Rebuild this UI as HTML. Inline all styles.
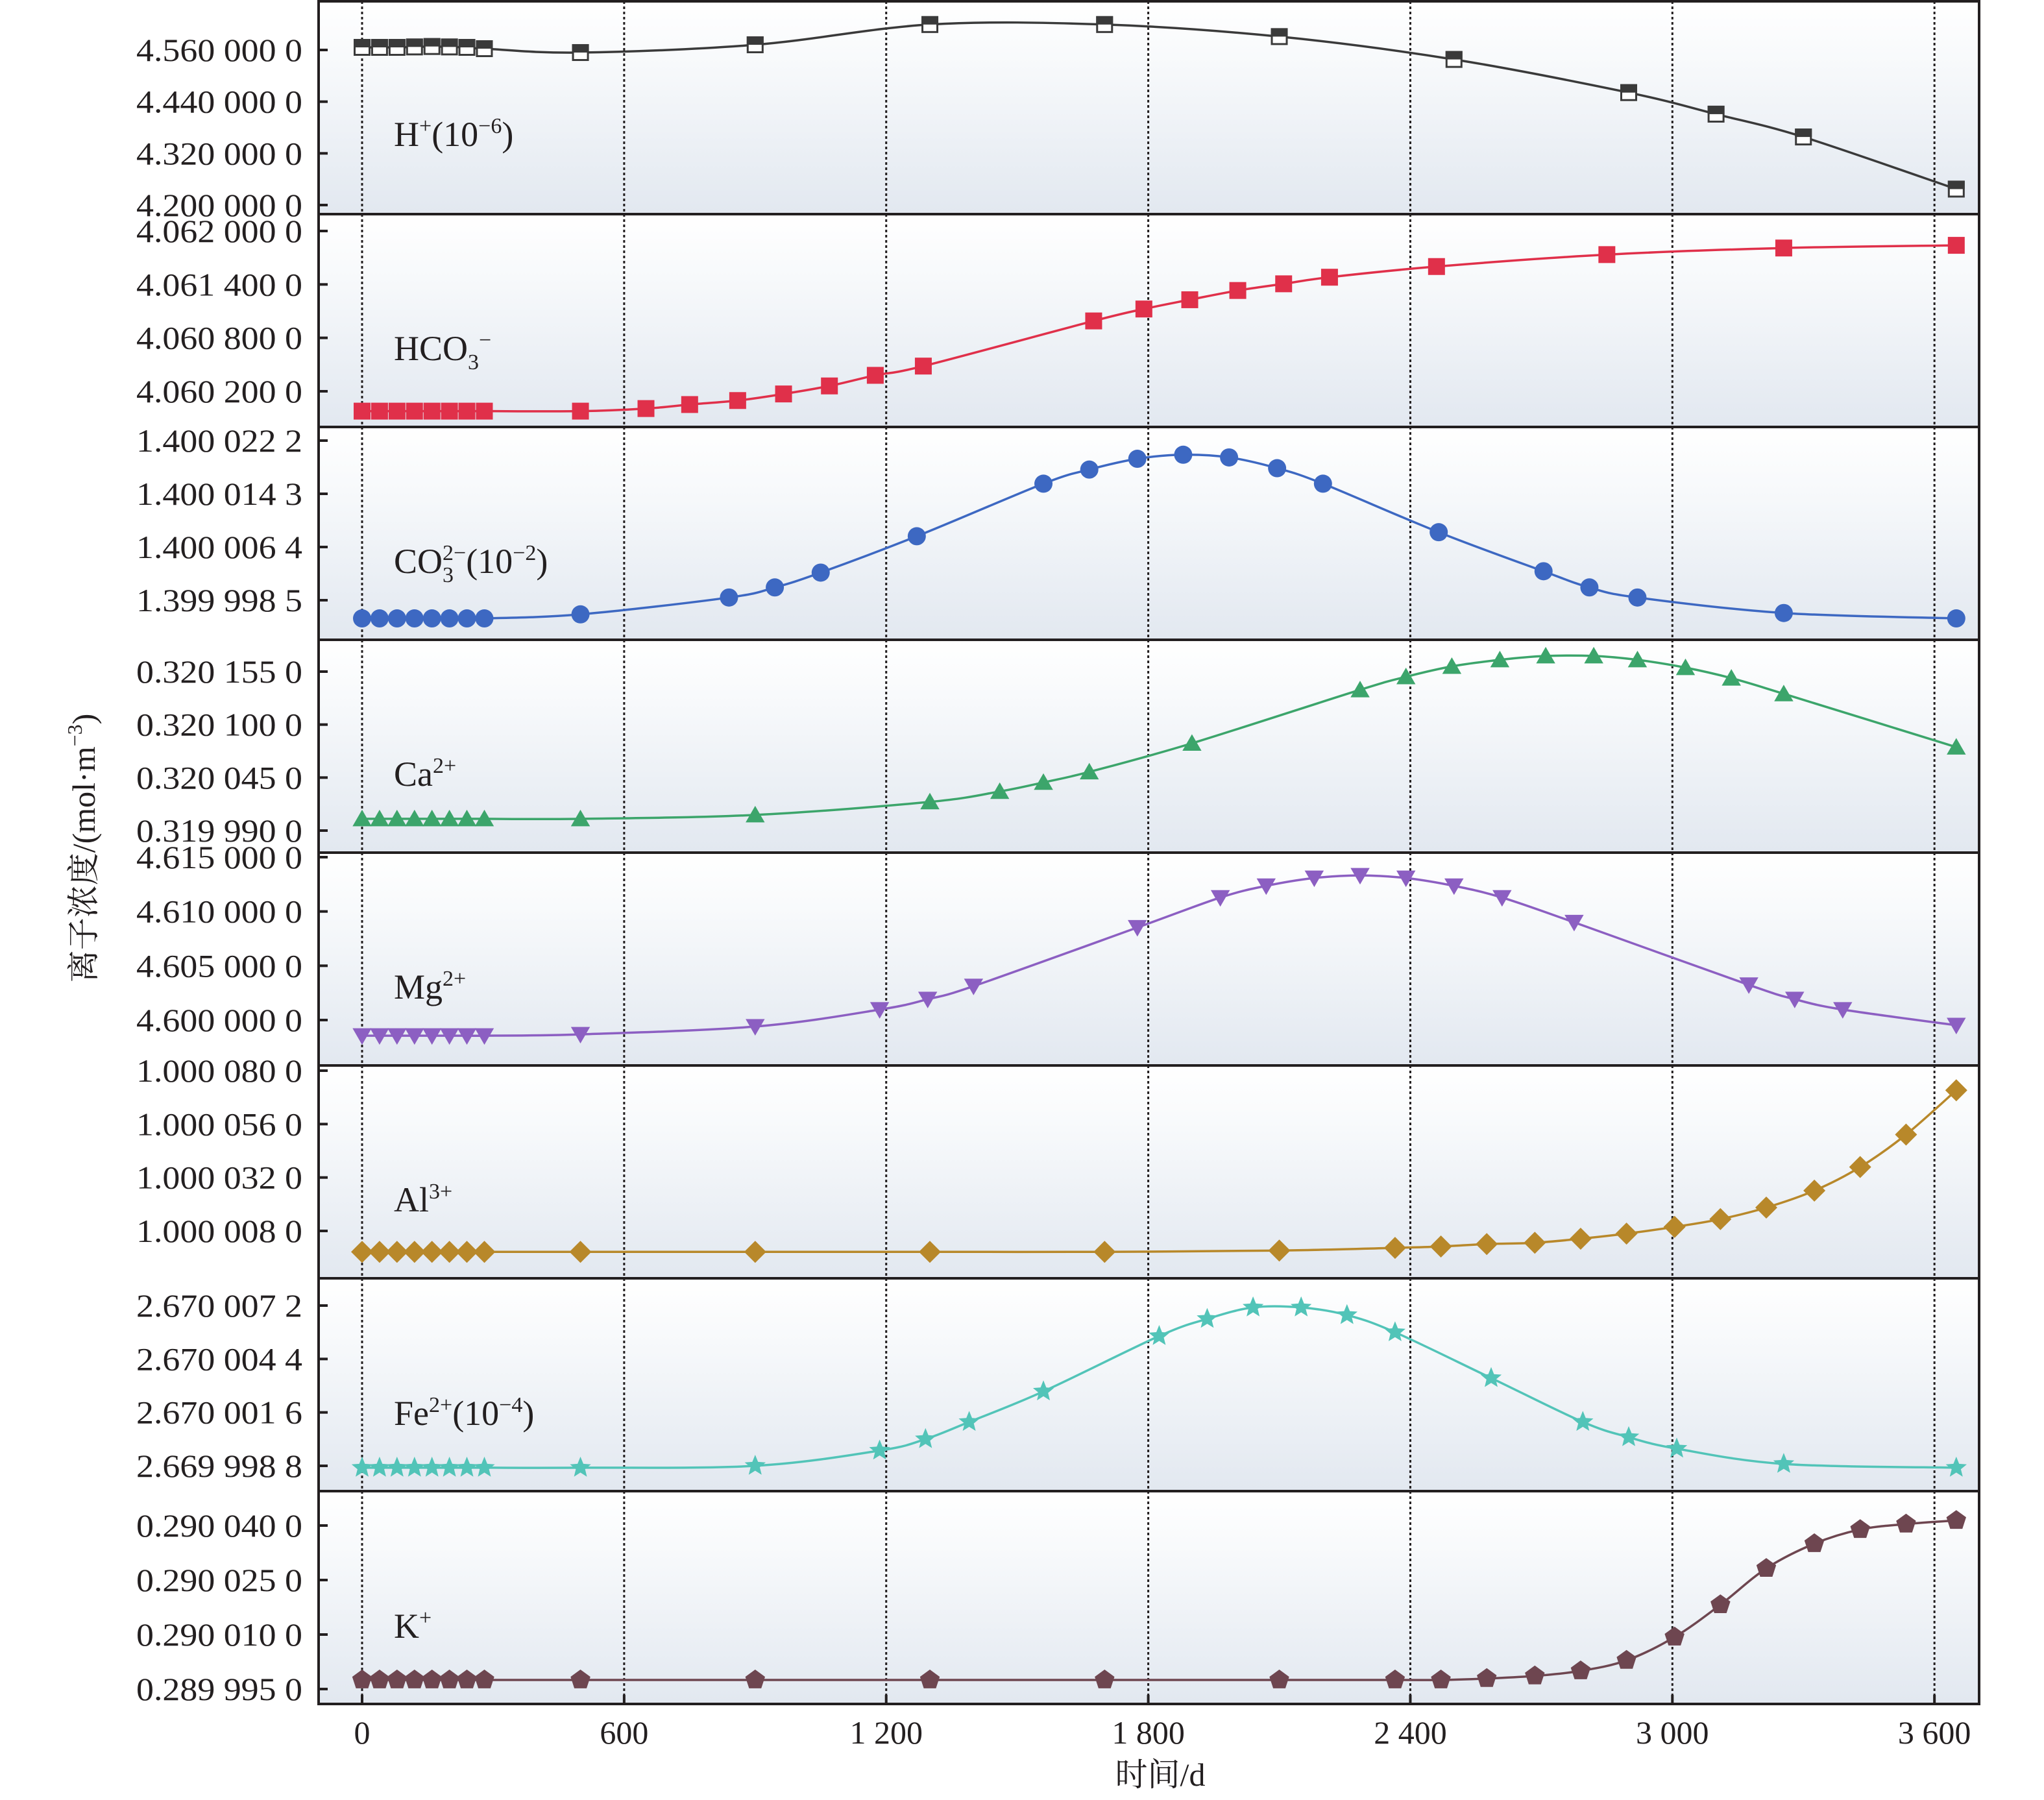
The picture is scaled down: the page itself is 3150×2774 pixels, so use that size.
<!DOCTYPE html>
<html><head><meta charset="utf-8"><style>
html,body{margin:0;padding:0;background:#fff;}
svg{display:block;}
text{font-family:"Liberation Serif","Noto Serif CJK SC",serif;fill:#231f20;}
</style></head><body>
<svg id="chart" width="3150" height="2774" viewBox="0 0 3150 2774" xmlns="http://www.w3.org/2000/svg">
<defs>
<linearGradient id="bg" x1="0" y1="0" x2="0" y2="1">
<stop offset="0" stop-color="#ffffff"/><stop offset="0.3" stop-color="#f7f9fb"/><stop offset="1" stop-color="#e2e8f0"/>
</linearGradient>
</defs>
<g id="layer-bg"></g><g id="layer-grid"></g><g id="layer-data"></g><g id="layer-axes"></g><g id="layer-text"></g>
<text x="146" y="1307" font-size="50" text-anchor="middle" transform="rotate(-90 146 1307)" style="font-family:'Liberation Serif','Noto Serif CJK SC',serif">离子浓度/(mol·m<tspan font-size="32" dy="-20">−3</tspan><tspan dy="20">)</tspan></text>
<text x="1788" y="2752" font-size="50" text-anchor="middle">时间/d</text>
</svg>
<script>
// ---- data ----
const xTickValues=[0,600,1200,1800,2400,3000,3600];
const xTickLabels=["0","600","1 200","1 800","2 400","3 000","3 600"];
const early=[0,40,80,120,160,200,240,280];

const hDays=early.concat([500,900,1300,1700,2100,2500,2900,3100,3300,3650]);
const hVals=[4.566,4.566,4.566,4.567,4.568,4.567,4.566,4.563,4.554,4.572,4.619,4.619,4.591,4.538,4.461,4.411,4.358,4.237];
const hTicks=[4.20,4.32,4.44,4.56];
const hTickLabels=["4.200 000 0","4.320 000 0","4.440 000 0","4.560 000 0"];

const hcoDays=early.concat([500,650,750,860,965,1070,1175,1285,1675,1790,1895,2005,2110,2215,2460,2850,3255,3650]);
const hcoVals=[4.059977,4.059977,4.059977,4.059977,4.059977,4.059977,4.059977,4.059977,4.059977,4.060006,4.060051,4.060096,4.060170,4.060260,4.060379,4.060483,4.060990,4.061124,4.061228,4.061332,4.061407,4.061481,4.061601,4.061735,4.061809,4.061839];
const hcoTicks=[4.0602,4.0608,4.0614,4.0620];
const hcoTickLabels=["4.060 200 0","4.060 800 0","4.061 400 0","4.062 000 0"];

const co3Days=early.concat([500,840,945,1050,1270,1560,1665,1775,1880,1985,2095,2200,2465,2705,2810,2920,3255,3650]);
const co3Vals=[1.3999958,1.3999958,1.3999958,1.3999958,1.3999958,1.3999958,1.3999958,1.3999958,1.3999964,1.3999989,1.4000004,1.4000026,1.4000080,1.4000158,1.4000179,1.4000195,1.4000201,1.4000197,1.4000181,1.4000158,1.4000086,1.4000028,1.4000004,1.3999989,1.3999966,1.3999958];
const co3Ticks=[1.3999985,1.4000064,1.4000143,1.4000222];
const co3TickLabels=["1.399 998 5","1.400 006 4","1.400 014 3","1.400 022 2"];

const caDays=early.concat([500,900,1300,1460,1560,1665,1900,2285,2390,2495,2605,2710,2820,2920,3030,3135,3255,3650]);
const caVals=[0.3200022,0.3200022,0.3200022,0.3200022,0.3200022,0.3200022,0.3200022,0.3200022,0.3200022,0.3200062,0.3200198,0.3200306,0.3200400,0.3200509,0.3200806,0.3201361,0.3201496,0.3201604,0.3201672,0.3201712,0.3201712,0.3201672,0.3201591,0.3201482,0.3201320,0.3200766];
const caTicks=[0.31999,0.320045,0.3201,0.320155];
const caTickLabels=["0.319 990 0","0.320 045 0","0.320 100 0","0.320 155 0"];

const mgDays=early.concat([500,900,1185,1295,1400,1775,1965,2070,2180,2285,2390,2500,2610,2775,3175,3280,3390,3650]);
const mgVals=[4.59856,4.59856,4.59856,4.59856,4.59856,4.59856,4.59856,4.59856,4.59868,4.5994,4.60096,4.60192,4.60312,4.60852,4.61128,4.61236,4.61308,4.61332,4.61308,4.61236,4.61128,4.609,4.60324,4.60192,4.60096,4.59952];
const mgTicks=[4.600,4.605,4.610,4.615];
const mgTickLabels=["4.600 000 0","4.605 000 0","4.610 000 0","4.615 000 0"];

const alDays=early.concat([500,900,1300,1700,2100,2365,2470,2575,2685,2790,2895,3005,3110,3215,3325,3430,3535,3650]);
const alVals=[0.9999986,0.9999986,0.9999986,0.9999986,0.9999986,0.9999986,0.9999986,0.9999986,0.9999986,0.9999986,0.9999986,0.9999986,0.9999992,1.0000004,1.0000010,1.0000021,1.0000027,1.0000045,1.0000068,1.0000098,1.0000133,1.0000185,1.0000261,1.0000367,1.0000513,1.0000712];
const alTicks=[1.000008,1.000032,1.000056,1.000080];
const alTickLabels=["1.000 008 0","1.000 032 0","1.000 056 0","1.000 080 0"];

const feDays=early.concat([500,900,1185,1290,1390,1560,1825,1935,2040,2150,2255,2365,2585,2795,2900,3010,3255,3650]);
const feVals=[2.6699987,2.6699987,2.6699987,2.6699987,2.6699987,2.6699987,2.6699987,2.6699987,2.6699987,2.6699988,2.6699996,2.6700002,2.6700011,2.6700027,2.6700056,2.6700065,2.6700071,2.6700071,2.6700067,2.6700058,2.6700034,2.6700011,2.6700003,2.6699997,2.6699989,2.6699987];
const feTicks=[2.6699988,2.6700016,2.6700044,2.6700072];
const feTickLabels=["2.669 998 8","2.670 001 6","2.670 004 4","2.670 007 2"];

const kDays=early.concat([500,900,1300,1700,2100,2365,2470,2575,2685,2790,2895,3005,3110,3215,3325,3430,3535,3650]);
const kVals=[0.2899975,0.2899975,0.2899975,0.2899975,0.2899975,0.2899975,0.2899975,0.2899975,0.2899975,0.2899975,0.2899975,0.2899975,0.2899975,0.2899975,0.2899975,0.2899979,0.2899986,0.2900000,0.2900029,0.2900093,0.2900182,0.2900282,0.2900350,0.2900389,0.2900404,0.2900414];
const kTicks=[0.289995,0.290010,0.290025,0.290040];
const kTickLabels=["0.289 995 0","0.290 010 0","0.290 025 0","0.290 040 0"];

// ---- layout ----
const NS="http://www.w3.org/2000/svg";
const L=491,R=3050,T=2,B=2626,PH=328,X0=558,XS=0.6731;
const xAt=d=>X0+d*XS;
const panels=[
 {key:"h",days:hDays,vals:hVals,ticks:hTicks,labels:hTickLabels,pLo:316,pHi:77,color:"#3a3a3a",marker:"halfsquare"},
 {key:"hco3",days:hcoDays,vals:hcoVals,ticks:hcoTicks,labels:hcoTickLabels,pLo:603,pHi:356,color:"#e0304a",marker:"square"},
 {key:"co3",days:co3Days,vals:co3Vals,ticks:co3Ticks,labels:co3TickLabels,pLo:925,pHi:679,color:"#3d68c2",marker:"circle"},
 {key:"ca",days:caDays,vals:caVals,ticks:caTicks,labels:caTickLabels,pLo:1280,pHi:1035,color:"#3ca56b",marker:"triangle"},
 {key:"mg",days:mgDays,vals:mgVals,ticks:mgTicks,labels:mgTickLabels,pLo:1572,pHi:1321,color:"#8c5fc2",marker:"downtriangle"},
 {key:"al",days:alDays,vals:alVals,ticks:alTicks,labels:alTickLabels,pLo:1897,pHi:1650,color:"#b8882a",marker:"diamond"},
 {key:"fe",days:feDays,vals:feVals,ticks:feTicks,labels:feTickLabels,pLo:2259,pHi:2012,color:"#52c4b8",marker:"star"},
 {key:"k",days:kDays,vals:kVals,ticks:kTicks,labels:kTickLabels,pLo:2603,pHi:2351,color:"#6e4650",marker:"pentagon"}
];
function el(tag,attrs,parent){const e=document.createElementNS(NS,tag);for(const k in attrs)e.setAttribute(k,attrs[k]);parent.appendChild(e);return e;}
const gBg=document.getElementById("layer-bg"),gGrid=document.getElementById("layer-grid"),gData=document.getElementById("layer-data"),gAxes=document.getElementById("layer-axes"),gText=document.getElementById("layer-text");

function spline(pts){
 let d="M"+pts[0][0].toFixed(1)+","+pts[0][1].toFixed(1);
 for(let i=0;i<pts.length-1;i++){
  const p0=pts[Math.max(i-1,0)],p1=pts[i],p2=pts[i+1],p3=pts[Math.min(i+2,pts.length-1)];
  const c1=[p1[0]+(p2[0]-p0[0])/6,p1[1]+(p2[1]-p0[1])/6],c2=[p2[0]-(p3[0]-p1[0])/6,p2[1]-(p3[1]-p1[1])/6];
  d+=" C"+c1[0].toFixed(1)+","+c1[1].toFixed(1)+" "+c2[0].toFixed(1)+","+c2[1].toFixed(1)+" "+p2[0].toFixed(1)+","+p2[1].toFixed(1);
 }
 return d;
}
function poly(cx,cy,n,r,rot,inner){
 const pts=[];const m=inner?n*2:n;
 for(let i=0;i<m;i++){const rr=inner&&(i%2)?inner:r;const a=rot+i*2*Math.PI/m;pts.push((cx+rr*Math.sin(a)).toFixed(1)+","+(cy-rr*Math.cos(a)).toFixed(1));}
 return pts.join(" ");
}
function drawMarker(g,type,x,y,c){
 const s=13;let m;
 if(type==="halfsquare"){
  m=el("rect",{x:x-s+1.5,y:y-s+1.5,width:2*s-3,height:2*s-3,fill:"#fff",stroke:c,"stroke-width":3},g);
  const t=el("rect",{x:x-s,y:y-s,width:2*s,height:s,fill:c},g);
  
  
 }else if(type==="square") m=el("rect",{x:x-s,y:y-s,width:2*s,height:2*s,fill:c},g);
 else if(type==="circle") m=el("circle",{cx:x,cy:y,r:s+1,fill:c},g);
 else if(type==="triangle") m=el("polygon",{points:poly(x,y+3,3,17,0),fill:c},g);
 else if(type==="downtriangle") m=el("polygon",{points:poly(x,y-3,3,17,Math.PI),fill:c},g);
 else if(type==="diamond") m=el("polygon",{points:poly(x,y,4,17,0),fill:c},g);
 else if(type==="star") m=el("polygon",{points:poly(x,y,5,17,0,7.5),fill:c},g);
 else m=el("polygon",{points:poly(x,y,5,16,0),fill:c},g);
 
 
}

panels.forEach((p,i)=>{
 const top=T+i*PH,bot=top+PH;
 const bg=el("rect",{x:L,y:top,width:R-L,height:PH,fill:"url(#bg)"},gBg);
 
 
 const yAt=v=>p.pLo+(v-p.ticks[0])/(p.ticks[p.ticks.length-1]-p.ticks[0])*(p.pHi-p.pLo);
 const g=el("g",{},gData);
 
 
 const pts=p.days.map((d,j)=>[xAt(d),yAt(p.vals[j])]);
 const line=el("path",{d:spline(pts),fill:"none",stroke:p.color,"stroke-width":3.5},g);
 
 
 pts.forEach(pt=>drawMarker(g,p.marker,pt[0],pt[1],p.color));
 // ticks
 p.ticks.forEach((v,j)=>{
  const y=yAt(v);
  const tk=el("line",{x1:L,x2:L+14,y1:y,y2:y,stroke:"#231f20","stroke-width":4},gAxes);
  
  
  const tx=el("text",{x:466,y:y+17,"font-size":50,"text-anchor":"end",textLength:256,lengthAdjust:"spacingAndGlyphs"},gText);
  tx.textContent=p.labels[j];
  
  
 });
 if(i>0){const sep=el("line",{x1:L,x2:R,y1:top,y2:top,stroke:"#231f20","stroke-width":4},gAxes);
  
  }
});
// gridlines & x ticks
xTickValues.forEach((v,j)=>{
 const x=xAt(v);
 const gl=el("line",{x1:x,x2:x,y1:T,y2:B,stroke:"#231f20","stroke-width":3,"stroke-dasharray":"4 4"},gGrid);
 
 
 const tk=el("line",{x1:x,x2:x,y1:B-14,y2:B,stroke:"#231f20","stroke-width":4},gAxes);
 
 
 const tx=el("text",{x:x,y:2687,"font-size":50,"text-anchor":"middle"},gText);
 tx.textContent=xTickLabels[j];
 
 
});
const frame=el("rect",{x:L,y:T,width:R-L,height:B-T,fill:"none",stroke:"#231f20","stroke-width":4},gAxes);


// panel labels
const labelY=[225,555,883,1211,1539,1867,2196,2524];
const labelHTML=[
 'H<tspan font-size="34" dy="-20">+</tspan><tspan dy="20">(10</tspan><tspan font-size="34" dy="-20">−6</tspan><tspan dy="20">)</tspan>',
 'HCO<tspan font-size="34" dy="14">3</tspan><tspan font-size="34" dy="-34">−</tspan>',
 'CO<tspan font-size="34" dy="14">3</tspan><tspan font-size="34" dx="-17" dy="-34">2−</tspan><tspan dy="20">(10</tspan><tspan font-size="34" dy="-20">−2</tspan><tspan dy="20">)</tspan>',
 'Ca<tspan font-size="34" dy="-20">2+</tspan>',
 'Mg<tspan font-size="34" dy="-20">2+</tspan>',
 'Al<tspan font-size="34" dy="-20">3+</tspan>',
 'Fe<tspan font-size="34" dy="-20">2+</tspan><tspan dy="20">(10</tspan><tspan font-size="34" dy="-20">−4</tspan><tspan dy="20">)</tspan>',
 'K<tspan font-size="34" dy="-20">+</tspan>'
];
panels.forEach((p,i)=>{
 const t=el("text",{x:607,y:labelY[i],"font-size":54},gText);
 t.innerHTML=labelHTML[i];
 
 
});
</script>
</body></html>
